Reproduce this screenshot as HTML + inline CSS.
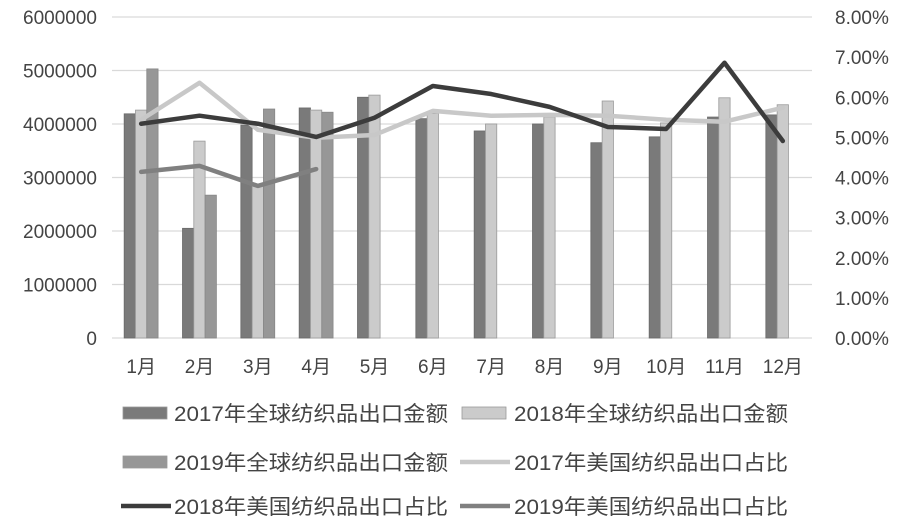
<!DOCTYPE html>
<html><head><meta charset="utf-8"><style>
html,body{margin:0;padding:0;background:#fff;}
svg text{font-family:"Liberation Sans","Noto Sans CJK SC",sans-serif;fill:#444;}
</style></head><body>
<svg id="chart" width="900" height="526" xmlns="http://www.w3.org/2000/svg">
<g id="grid"></g><g id="bars"></g><g id="lines"></g><g id="axes"></g><g id="legend"></g>
</svg>
<script>
const months=["1月","2月","3月","4月","5月","6月","7月","8月","9月","10月","11月","12月"];
const bars2017=[4190000,2050000,3980000,4300000,4500000,4100000,3870000,4000000,3650000,3760000,4130000,4170000];
const bars2018=[4260000,3680000,2850000,4260000,4540000,4200000,4000000,4130000,4430000,4020000,4490000,4360000];
const bars2019=[5030000,2670000,4280000,4220000,null,null,null,null,null,null,null,null];
const pct2017=[5.44,6.36,5.19,4.99,5.06,5.66,5.54,5.56,5.54,5.44,5.39,5.74];
const pct2018=[5.34,5.54,5.34,5.01,5.49,6.28,6.08,5.76,5.26,5.21,6.86,4.91];
const pct2019=[4.14,4.29,3.79,4.21,null,null,null,null,null,null,null,null];
const leftTicks=[0,1000000,2000000,3000000,4000000,5000000,6000000];
const rightTicks=[0,1,2,3,4,5,6,7,8];
const legendLabels=["2017年全球纺织品出口金额","2018年全球纺织品出口金额","2019年全球纺织品出口金额","2017年美国纺织品出口占比","2018年美国纺织品出口占比","2019年美国纺织品出口占比"];

const NS="http://www.w3.org/2000/svg";
const X0=112,X1=812,Y0=338,Y1=17;
const bw=(X1-X0)/months.length;
const yL=v=>Y0-(v/6000000)*(Y0-Y1);
const yR=v=>Y0-(v/8)*(Y0-Y1);
const xC=i=>X0+bw*(i+0.5);
function mk(tag,attrs,parent){const e=document.createElementNS(NS,tag);for(const k in attrs)e.setAttribute(k,attrs[k]);document.getElementById(parent).appendChild(e);return e;}

leftTicks.forEach((t,i)=>{
  const y=yL(t);
  const g=mk("line",{x1:X0,x2:X1,y1:y,y2:y,stroke:"#d9d9d9","stroke-width":1.2},"grid");
  
  
  const l=mk("text",{x:97,y:y+7,"text-anchor":"end","font-size":19},"axes");
  l.textContent=String(t);
  
  
});
rightTicks.forEach(t=>{
  const l=mk("text",{x:835,y:yR(t)+7,"font-size":19},"axes");
  l.textContent=t.toFixed(2)+"%";
  
  
});
months.forEach((m,i)=>{
  const l=mk("text",{x:xC(i),y:373,"text-anchor":"middle","font-size":19},"axes");
  l.textContent=m;
  
  
});
const W=11.3;
const series=[[bars2017,"#7a7a7a","#6a6a6a","bar-2017"],[bars2018,"#cbcbcb","#9a9a9a","bar-2018"],[bars2019,"#979797","#888","bar-2019"]];
series.forEach((s,k)=>{
  s[0].forEach((v,i)=>{
    if(v==null)return;
    const x=xC(i)-17+k*W, y=yL(v);
    const r=mk("rect",{x:x,y:y,width:W,height:Y0-y,fill:s[1],stroke:s[2],"stroke-width":0.8},"bars");
    
    
  });
});
const lines=[[pct2017,"#c8c8c8","line-2017-share"],[pct2018,"#3c3c3c","line-2018-share"],[pct2019,"#808080","line-2019-share"]];
lines.forEach(s=>{
  const pts=[];s[0].forEach((v,i)=>{if(v!=null)pts.push(xC(i)+","+yR(v));});
  const p=mk("polyline",{points:pts.join(" "),fill:"none",stroke:s[1],"stroke-width":4.5,"stroke-linejoin":"round","stroke-linecap":"round"},"lines");
  
  
});
const legSw=[["rect","#7a7a7a"],["rect","#cbcbcb"],["rect","#979797"],["line","#c8c8c8"],["line","#3c3c3c"],["line","#808080"]];
const rowsY=[413,462,506];
legendLabels.forEach((lab,i)=>{
  const col=i%2,row=Math.floor(i/2);
  const sx=col?460:121, tx=col?514:174, y=rowsY[row];
  let sw;
  if(legSw[i][0]=="rect") sw=mk("rect",{x:sx+2,y:y-6,width:44,height:12,fill:legSw[i][1],stroke:"#999","stroke-width":0.8},"legend");
  else sw=mk("line",{x1:sx,x2:sx+50,y1:y,y2:y,stroke:legSw[i][1],"stroke-width":4.5},"legend");
  
  
  const t=mk("text",{x:tx,y:y+8,"font-size":21,textLength:274,lengthAdjust:"spacingAndGlyphs"},"legend");
  t.textContent=lab;
  
  
});
</script>
</body></html>
